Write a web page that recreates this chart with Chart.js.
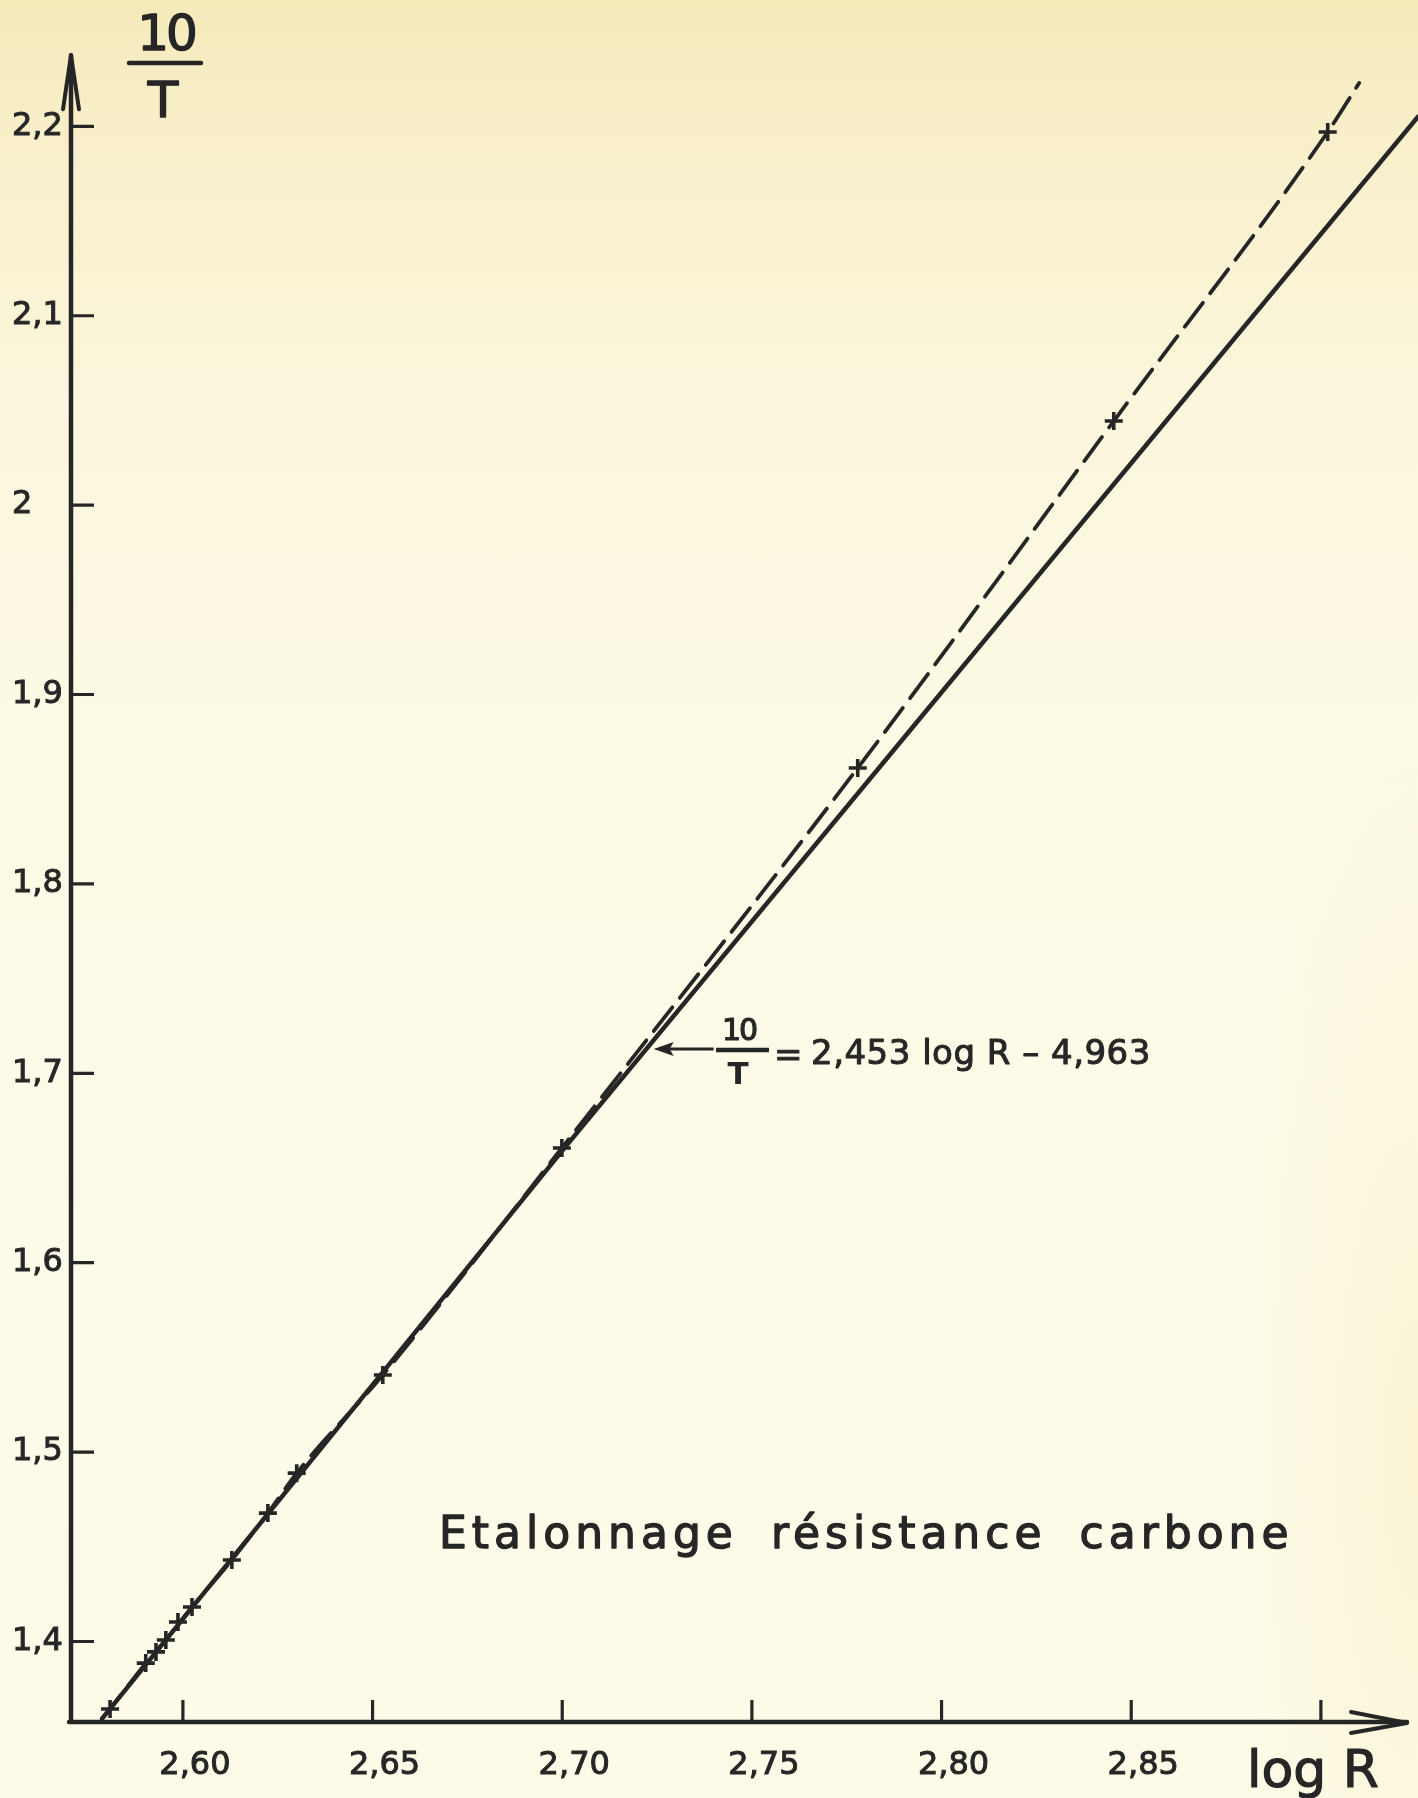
<!DOCTYPE html>
<html><head><meta charset="utf-8">
<script src="https://cdn.jsdelivr.net/npm/chart.js@4.4.1/dist/chart.umd.min.js"></script>
<style>
html,body{margin:0;padding:0;width:1418px;height:1798px;overflow:hidden;}
body{background:
  radial-gradient(ellipse 180px 700px at 1418px 1450px, rgba(248,238,196,0.55), rgba(248,238,196,0) 100%),
  linear-gradient(to bottom,#f6eabb 0%,#f9f0cc 9%,#fbf6dc 22%,#fdfae5 40%,#fdfbe9 70%,#fdfbe8 100%);}
#wrap{position:relative;width:1418px;height:1798px;}
</style></head><body>
<div id="wrap"><canvas id="c" width="1418" height="1798"></canvas></div>
<script>
// ---- data ----
const pointsLogR = [2.5808, 2.5902, 2.5929, 2.5955, 2.5987, 2.6024, 2.6129, 2.6224, 2.6300, 2.6527, 2.6999, 2.7779, 2.8454, 2.9018];
const points10T  = [1.3644, 1.3886, 1.3945, 1.4008, 1.4103, 1.4182, 1.4430, 1.4678, 1.4889, 1.5407, 1.6606, 1.8612, 2.0444, 2.1970];

const dashedLogR = [2.5787, 2.5808, 2.5902, 2.5955, 2.6024, 2.6129, 2.6224, 2.6300, 2.6527, 2.6999, 2.7779, 2.8454, 2.9018, 2.9101];
const dashed10T  = [1.3593, 1.3644, 1.3886, 1.4008, 1.4182, 1.4430, 1.4678, 1.4889, 1.5407, 1.6606, 1.8612, 2.0444, 2.1970, 2.2229];

const solidLogR = [2.5787, 2.7012, 2.7837, 2.9256];
const solid10T  = [1.3593, 1.6621, 1.8617, 2.2051];

const xTickValues = [2.60, 2.65, 2.70, 2.75, 2.80, 2.85, 2.90];
const xTickLabels = ["2,60", "2,65", "2,70", "2,75", "2,80", "2,85", ""];
const yTickValues = [1.4, 1.5, 1.6, 1.7, 1.8, 1.9, 2.0, 2.1, 2.2];
const yTickLabels = ["1,4", "1,5", "1,6", "1,7", "1,8", "1,9", "2", "2,1", "2,2"];

const xRange = [2.5705, 2.9256];
const yRange = [1.3575, 2.2667];
const xArrowTip = 2.9227;
const yArrowTip = 2.2375;

const titleText = "Etalonnage résistance carbone";
const equationText = "2,453 log R – 4,963";
const annotTip = [2.7241, 1.7128];

// ---- drawing ----
const INK = '#262626';
const FONT = '"DejaVu Sans", sans-serif';

const toXY = (xs, ys) => xs.map((x, i) => ({x: x, y: ys[i]}));

function inkText(ctx, txt, x, y, sw) {
  ctx.lineWidth = sw;
  ctx.strokeText(txt, x, y);
  ctx.fillText(txt, x, y);
}

const decor = {
  id: 'decor',
  afterDatasetsDraw(chart) {
    const ctx = chart.ctx;
    const xs = chart.scales.x, ys = chart.scales.y;
    const ax = xs.getPixelForValue(xRange[0]);
    const ay = ys.getPixelForValue(yRange[0]);
    ctx.save();
    ctx.strokeStyle = INK; ctx.fillStyle = INK;
    ctx.lineCap = 'round'; ctx.lineJoin = 'round';
    // axes
    ctx.lineWidth = 4.5;
    const yTipPx = ys.getPixelForValue(yArrowTip);
    const xTipPx = xs.getPixelForValue(xArrowTip);
    ctx.beginPath();
    ctx.moveTo(ax, ay); ctx.lineTo(ax, yTipPx);
    ctx.moveTo(ax - 2, ay); ctx.lineTo(xTipPx, ay);
    ctx.stroke();
    // arrowheads
    ctx.lineWidth = 4;
    ctx.beginPath();
    ctx.moveTo(ax - 8, yTipPx + 54); ctx.lineTo(ax, yTipPx); ctx.lineTo(ax + 8, yTipPx + 54);
    ctx.moveTo(xTipPx - 56, ay - 10); ctx.lineTo(xTipPx, ay + 1); ctx.lineTo(xTipPx - 56, ay + 11);
    ctx.stroke();
    // tick marks (inward)
    ctx.lineWidth = 3.2;
    ctx.lineCap = 'butt';
    ctx.beginPath();
    yTickValues.forEach(v => { const p = ys.getPixelForValue(v); ctx.moveTo(ax, p); ctx.lineTo(ax + 23, p); });
    xTickValues.forEach(v => { const p = xs.getPixelForValue(v); ctx.moveTo(p, ay); ctx.lineTo(p, ay - 22); });
    ctx.stroke();

    // axis title 10/T
    ctx.lineJoin = 'round';
    ctx.textAlign = 'center'; ctx.textBaseline = 'alphabetic';
    ctx.font = '50px ' + FONT;
    ctx.letterSpacing = '-3px';
    inkText(ctx, '10', 166, 50, 1.4);
    ctx.letterSpacing = '0px';
    inkText(ctx, 'T', 163, 117, 1.4);
    ctx.lineWidth = 4.5; ctx.lineCap = 'round';
    ctx.beginPath(); ctx.moveTo(129, 63); ctx.lineTo(201, 63); ctx.stroke();

    // axis title log R
    ctx.textAlign = 'left';
    ctx.font = '52px ' + FONT;
    inkText(ctx, 'log R', 1247, 1787, 1.2);

    // title
    ctx.font = '44px ' + FONT;
    ctx.letterSpacing = '5px';
    ctx.wordSpacing = '14px';
    inkText(ctx, titleText, 439, 1548, 1.3);
    ctx.letterSpacing = '0px';
    ctx.wordSpacing = '0px';

    // annotation arrow
    const tx = xs.getPixelForValue(annotTip[0]);
    const ty = ys.getPixelForValue(annotTip[1]);
    ctx.lineWidth = 3; ctx.lineCap = 'butt';
    ctx.beginPath(); ctx.moveTo(tx + 12, ty); ctx.lineTo(tx + 60, ty); ctx.stroke();
    ctx.beginPath();
    ctx.moveTo(tx, ty); ctx.lineTo(tx + 20, ty - 7); ctx.lineTo(tx + 16, ty); ctx.lineTo(tx + 20, ty + 7);
    ctx.closePath(); ctx.fill();
    // fraction 10/T
    ctx.textAlign = 'center';
    ctx.font = '30px ' + FONT;
    ctx.letterSpacing = '-2px';
    inkText(ctx, '10', 739, 1040, 1.2);
    ctx.letterSpacing = '0px';
    ctx.font = 'bold 31px ' + FONT;
    ctx.fillText('T', 738, 1084);
    ctx.lineWidth = 4.5;
    ctx.beginPath(); ctx.moveTo(716, ty + 1); ctx.lineTo(769, ty + 1); ctx.stroke();
    // = and equation
    ctx.font = '34px ' + FONT;
    ctx.textAlign = 'left';
    inkText(ctx, '=', 774, 1066, 1);
    ctx.font = '34px ' + FONT;
    ctx.letterSpacing = '0.5px';
    inkText(ctx, equationText, 811, 1064, 1);
    ctx.restore();
  }
};

new Chart(document.getElementById('c'), {
  type: 'scatter',
  data: {
    datasets: [
      {
        label: 'droite',
        data: toXY(solidLogR, solid10T),
        showLine: true, borderColor: INK, borderWidth: 4.5,
        pointRadius: 0, borderCapStyle: 'round', order: 3
      },
      {
        label: 'courbe',
        data: toXY(dashedLogR, dashed10T),
        showLine: true, borderColor: INK, borderWidth: 3.8,
        borderDash: [30, 12], borderCapStyle: 'round',
        cubicInterpolationMode: 'monotone',
        pointRadius: 0, order: 2
      },
      {
        label: 'mesures',
        data: toXY(pointsLogR, points10T),
        showLine: false, pointStyle: 'cross', pointRadius: 9,
        pointBorderWidth: 3.6, pointBorderColor: INK, pointBackgroundColor: INK,
        order: 1
      }
    ]
  },
  options: {
    responsive: false,
    devicePixelRatio: 1,
    animation: false,
    layout: { autoPadding: false, padding: { left: 12, right: 0, top: 0, bottom: 0 } },
    plugins: { legend: { display: false }, tooltip: { enabled: false } },
    scales: {
      x: {
        type: 'linear', position: 'bottom',
        min: xRange[0], max: xRange[1],
        border: { display: false },
        grid: { display: false, drawTicks: false },
        afterBuildTicks: s => { s.ticks = xTickValues.map(v => ({ value: v })); },
        afterFit: s => { s.height = 76; s.paddingLeft = 0; s.paddingRight = 0; s.paddingTop = 0; s.paddingBottom = 0; },
        ticks: {
          autoSkip: false, maxRotation: 0, minRotation: 0,
          padding: 24, labelOffset: 12, color: INK,
          textStrokeColor: INK, textStrokeWidth: 1,
          font: { family: FONT, size: 32 },
          callback: (v, i) => xTickLabels[i]
        }
      },
      y: {
        type: 'linear', position: 'left',
        min: yRange[0], max: yRange[1],
        border: { display: false },
        grid: { display: false, drawTicks: false },
        afterBuildTicks: s => { s.ticks = yTickValues.map(v => ({ value: v })); },
        afterFit: s => { s.width = 59; s.paddingLeft = 0; s.paddingRight = 0; s.paddingTop = 0; s.paddingBottom = 0; },
        ticks: {
          autoSkip: false, crossAlign: 'far', padding: 8, color: INK,
          textStrokeColor: INK, textStrokeWidth: 1,
          font: { family: FONT, size: 32 },
          callback: (v, i) => yTickLabels[i]
        }
      }
    }
  },
  plugins: [decor]
});
</script>
</body></html>
